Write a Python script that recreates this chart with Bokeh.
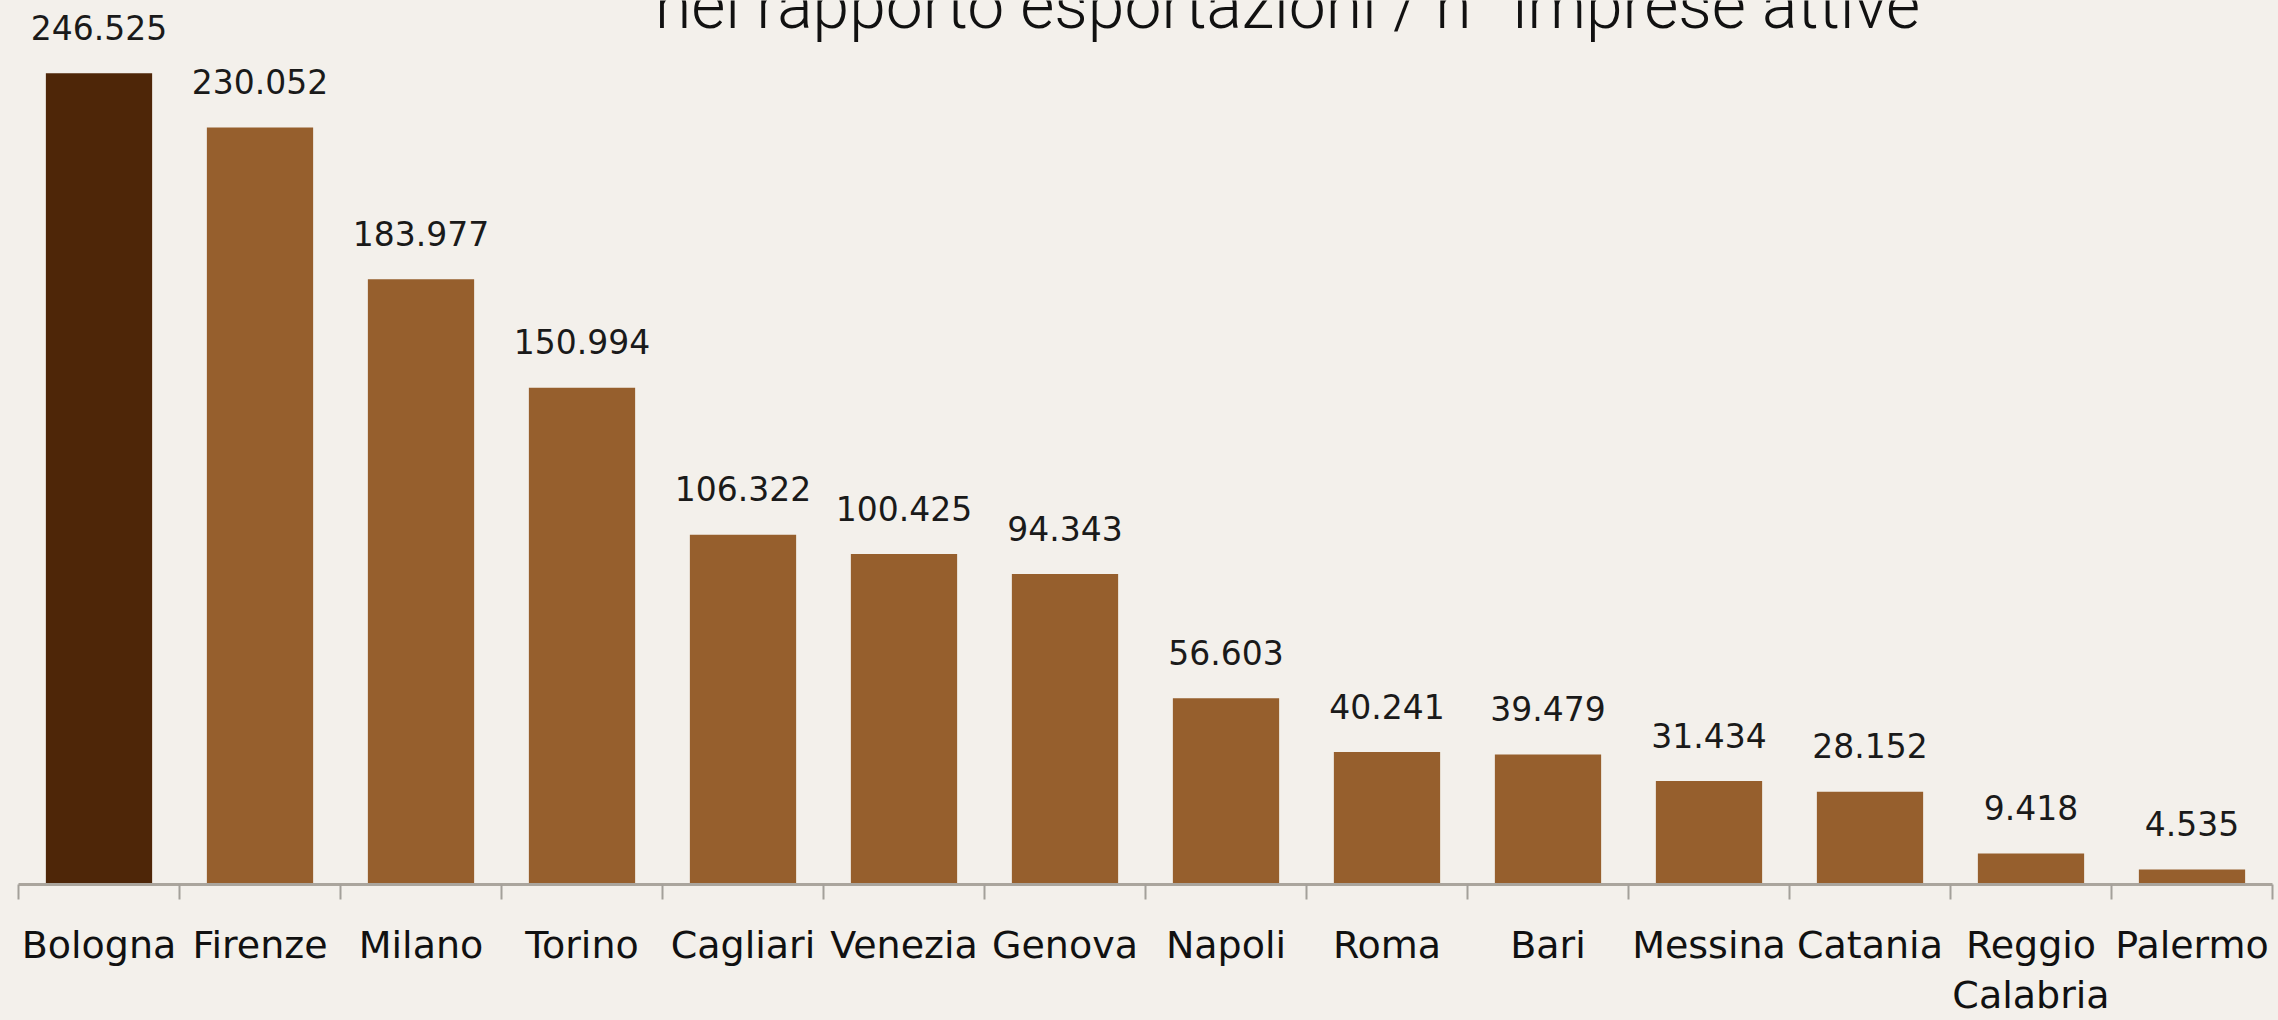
from bokeh.plotting import figure
from bokeh.models import ColumnDataSource, Range1d, FixedTicker, Label
from bokeh.core.properties import value
from bokeh.embed import file_html
from bokeh.resources import INLINE

# ---- data ----
categories = ["Bologna", "Firenze", "Milano", "Torino", "Cagliari", "Venezia", "Genova",
              "Napoli", "Roma", "Bari", "Messina", "Catania", "Reggio Calabria", "Palermo"]
values = [246525, 230052, 183977, 150994, 106322, 100425, 94343,
          56603, 40241, 39479, 31434, 28152, 9418, 4535]
tick_labels = ["Bologna", "Firenze", "Milano", "Torino", "Cagliari", "Venezia", "Genova",
               "Napoli", "Roma", "Bari", "Messina", "Catania", "Reggio\nCalabria", "Palermo"]
title_text = "nel rapporto esportazioni / n° imprese attive"

BG = "#f3f0eb"
positions = list(range(len(categories)))
value_text = [f"{v:,}".replace(",", ".") for v in values]
bar_colors = ["#4e2608"] + ["#965f2d"] * (len(categories) - 1)

src = ColumnDataSource(dict(x=positions, top=values, label=value_text,
                            color=bar_colors, name=categories))

p = figure(width=2278, height=1020, output_backend="svg", toolbar_location=None,
           x_range=Range1d(-0.5, len(categories) - 0.5), y_range=Range1d(0, 268660),
           min_border_left=18, min_border_right=6, min_border_top=0, min_border_bottom=130,
           background_fill_color=BG, border_fill_color=BG, outline_line_color=None,
           y_axis_location=None)

p.vbar(x="x", top="top", width=0.66, bottom=0, source=src, fill_color="color", line_color=None)

p.text(x="x", y="top", text="label", source=src, text_align="center",
       text_baseline="alphabetic", y_offset=-46, text_font=value("DejaVu Sans"),
       text_font_size="33px", text_color="#1a1a1a")

p.xgrid.visible = False
p.ygrid.visible = False

ax = p.xaxis[0]
ax.ticker = FixedTicker(ticks=positions, minor_ticks=[i - 0.5 for i in range(len(categories) + 1)])
ax.major_label_overrides = {i: t for i, t in zip(positions, tick_labels)}
ax.major_tick_line_color = None
ax.major_tick_out = 15
ax.major_tick_in = 0
ax.minor_tick_line_color = "#a3a09a"
ax.minor_tick_line_width = 2
ax.minor_tick_out = 15
ax.minor_tick_in = 0
ax.axis_line_color = "#aaa59d"
ax.axis_line_width = 3
ax.major_label_standoff = 23
ax.major_label_text_font = "DejaVu Sans"
ax.major_label_text_font_size = "38px"
ax.major_label_text_color = "#111111"
ax.major_label_text_line_height = 1.15

title = Label(x=1269, y=879, x_units="screen", y_units="screen", text=title_text,
              text_align="center", text_baseline="alphabetic",
              text_font="Roboto Light", text_font_size="66px", text_color="#111111")
p.add_layout(title)

html = file_html(p, INLINE)
css = ("<style>html,body{margin:0 !important;padding:0 !important;overflow:hidden !important;"
       "background:#f3f0eb !important;}</style></head>")
html = html.replace("</head>", css, 1)
open("out.html", "w").write(html)
